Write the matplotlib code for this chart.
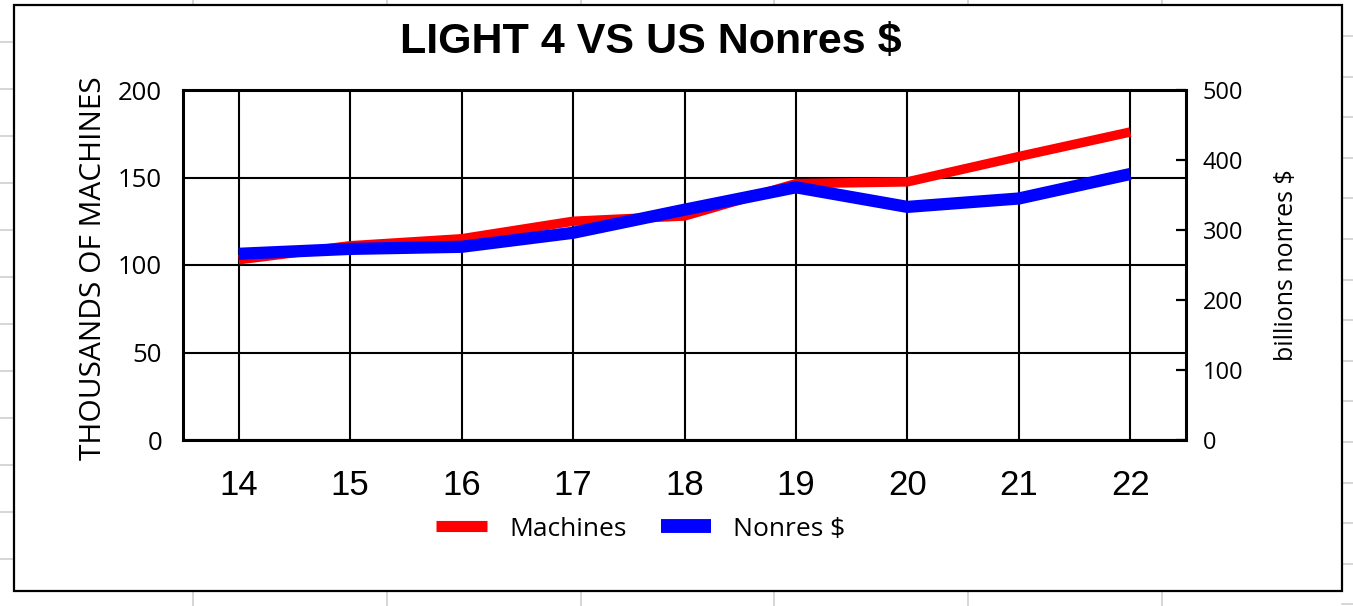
import matplotlib.pyplot as plt
from matplotlib.lines import Line2D
from matplotlib.patches import Rectangle
import numpy as np

# data
years = ['14', '15', '16', '17', '18', '19', '20', '21', '22']
machines = [103, 111, 115, 125, 128, 146.5, 147.5, 162, 176]
nonres = [266, 273, 276, 296, 329, 361, 333, 345, 380]
left_ticks = [0, 50, 100, 150, 200]
right_ticks = [0, 100, 200, 300, 400, 500]

W, H = 1353, 606
fig = plt.figure(figsize=(W / 100, H / 100), dpi=100)

# faint spreadsheet cells behind the chart
grey = '#d0d0d0'
for yy in np.arange(42, H, 47):
    fig.add_artist(Line2D([0, 14 / W], [1 - yy / H] * 2, color=grey, lw=1.2))
for yy in np.arange(36, H, 40.6):
    fig.add_artist(Line2D([1342 / W, 1], [1 - yy / H] * 2, color=grey, lw=1.2))
for xx in np.arange(193, W, 193.8):
    fig.add_artist(Line2D([xx / W] * 2, [1, 1 - 5 / H], color=grey, lw=1.2))
    fig.add_artist(Line2D([xx / W] * 2, [1 - 591 / H, 0], color=grey, lw=1.2))

# chart frame
fig.add_artist(Rectangle((14 / W, 1 - 591 / H), 1328 / W, 586 / H,
                         transform=fig.transFigure, fill=False,
                         edgecolor='black', lw=1.6, zorder=5))

ax = fig.add_axes([183 / W, 1 - 440 / H, 1003 / W, 350 / H])
ax2 = ax.twinx()

x = np.arange(len(years))
ax.plot(x, machines, color='#ff0000', lw=6.8, solid_capstyle='butt',
        solid_joinstyle='miter')
ax2.plot(x, nonres, color='#0000ff', lw=8.8, solid_capstyle='butt',
         solid_joinstyle='miter')

ax.set_xlim(-0.5, len(years) - 0.5)
ax.set_ylim(0, 200)
ax2.set_ylim(0, 500)

ax.set_xticks(x)
ax.set_xticklabels(years, family='Liberation Sans', fontsize=25)
ax.set_yticks(left_ticks)
ax.set_yticklabels([str(t) for t in left_ticks], family='Open Sans', fontsize=18.5)
ax.tick_params(axis='x', length=0, pad=21)
ax.tick_params(axis='y', length=0, pad=15)

ax2.set_yticks(right_ticks)
ax2.set_yticklabels([str(t) for t in right_ticks], family='Open Sans', fontsize=17)
ax2.tick_params(axis='y', direction='in', length=7.5, width=1.6, pad=12)

ax.grid(True, color='black', lw=1.5)
ax.set_axisbelow(True)
for sp in ax2.spines.values():
    sp.set_linewidth(2.2)
for sp in ax.spines.values():
    sp.set_visible(False)

ax.set_ylabel('THOUSANDS OF MACHINES', family='Open Sans', fontsize=21.5)
ax.yaxis.set_label_coords(-0.075, 0.49)
ax2.set_ylabel('billions nonres $', family='Open Sans', fontsize=18,
               rotation=90, va='center')
ax2.yaxis.set_label_coords(1.1, 0.5)

fig.text(651 / W, 1 - 42 / H, 'LIGHT 4 VS US Nonres $', family='Liberation Sans',
         fontsize=31, fontweight='bold', ha='center', va='center')

handles = [Line2D([], [], color='#ff0000', lw=8, solid_capstyle='butt'),
           Line2D([], [], color='#0000ff', lw=10, solid_capstyle='butt')]
fig.legend(handles=handles, labels=['Machines', 'Nonres $'], loc='center',
           bbox_to_anchor=(641 / W, 1 - 529 / H), ncol=2, frameon=False,
           prop={'family': 'Open Sans', 'size': 19},
           handlelength=1.9, handletextpad=0.85, columnspacing=1.3)

fig.savefig('out.png', dpi=100)
